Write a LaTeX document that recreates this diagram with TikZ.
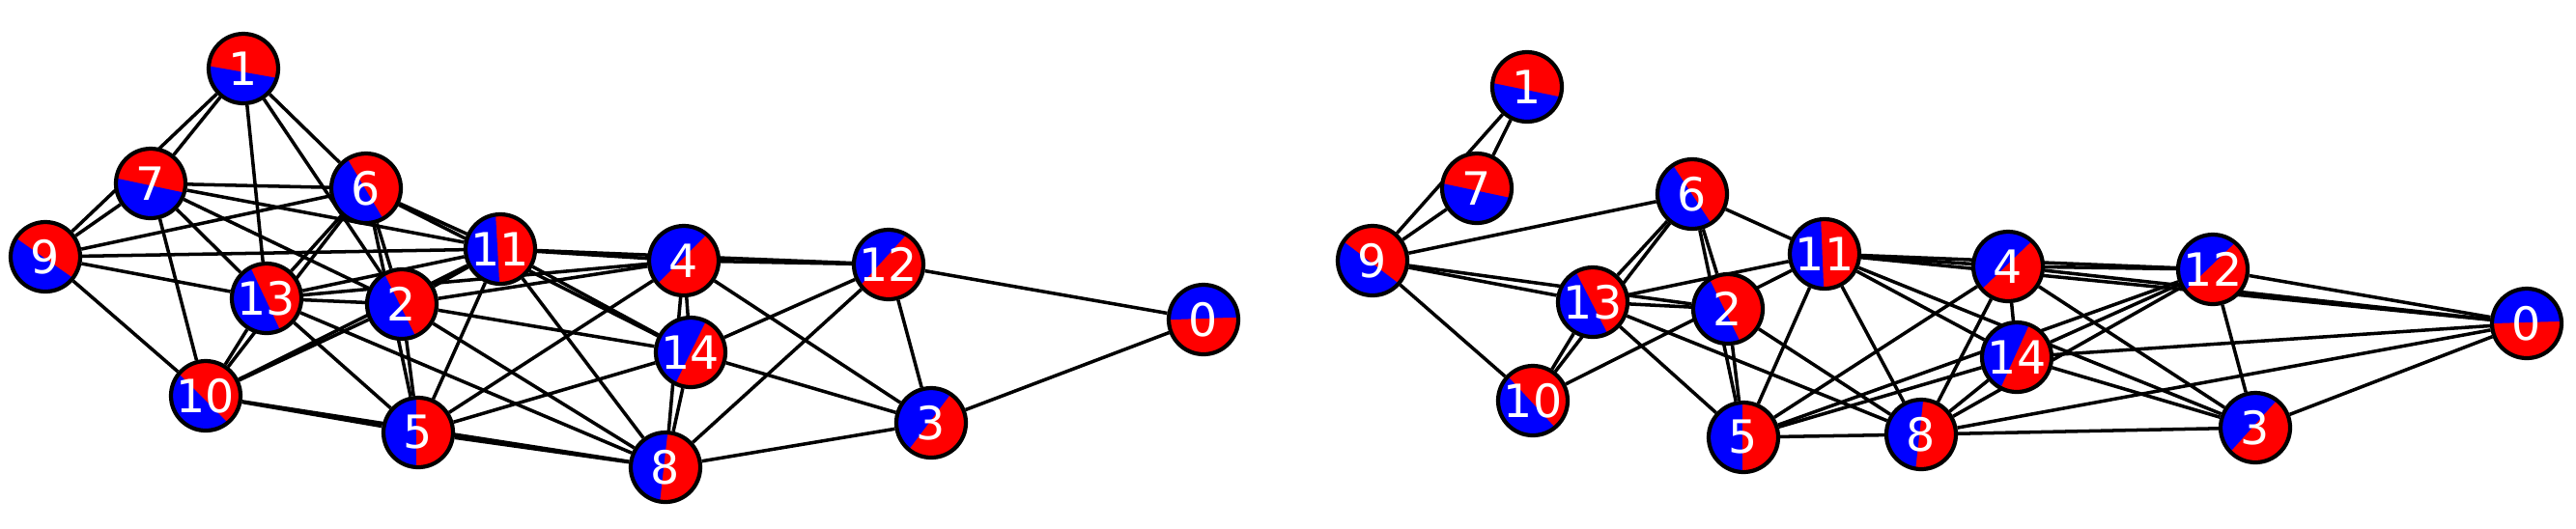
\documentclass[tikz,border=0pt]{standalone}
\usepackage{fontspec}
\setmainfont{DejaVu Sans}
\pgfdeclarelayer{bg}
\pgfdeclarelayer{mid}
\pgfsetlayers{bg,mid,main}
\tikzset{
  pn/.style={circle, draw=black, line width=1.2pt, minimum size=0.72cm,
    inner sep=0pt, text=white, font=\fontsize{13.5}{14}\selectfont},
  edge/.style={draw=black, line width=1pt}
}
\newcommand\piefill[3]{%
  \begin{scope}[shift={(#1.center)}, rotate=#2]
    \clip (0,0) circle (0.36);
    \fill[red] (-0.4,-0.4) rectangle (0.4,0.4);
    \fill[blue] ({#3*0.36},-0.4) rectangle (0.4,0.4);
  \end{scope}}
\begin{document}
\begin{tikzpicture}
\useasboundingbox (0,0) rectangle (26.67,-5.47);
% ---------- left graph ----------
\node[pn] (L0)  at (12.46,-3.31) {0};
\node[pn] (L1)  at (2.52,-0.71) {1};
\node[pn] (L2)  at (4.16,-3.15) {2};
\node[pn] (L3)  at (9.64,-4.38) {3};
\node[pn] (L4)  at (7.08,-2.70) {4};
\node[pn] (L5)  at (4.33,-4.48) {5};
\node[pn] (L6)  at (3.79,-1.95) {6};
\node[pn] (L7)  at (1.56,-1.90) {7};
\node[pn] (L8)  at (6.89,-4.84) {8};
\node[pn] (L9)  at (0.47,-2.66) {9};
\node[pn] (L10) at (2.13,-4.10) {10};
\node[pn] (L11) at (5.18,-2.58) {11};
\node[pn] (L12) at (9.20,-2.74) {12};
\node[pn] (L13) at (2.76,-3.09) {13};
\node[pn] (L14) at (7.15,-3.65) {14};
% ---------- right graph ----------
\node[pn] (R0)  at (26.16,-3.35) {0};
\node[pn] (R1)  at (15.81,-0.90) {1};
\node[pn] (R2)  at (17.89,-3.20) {2};
\node[pn] (R3)  at (23.35,-4.43) {3};
\node[pn] (R4)  at (20.79,-2.76) {4};
\node[pn] (R5)  at (18.05,-4.53) {5};
\node[pn] (R6)  at (17.52,-2.01) {6};
\node[pn] (R7)  at (15.29,-1.95) {7};
\node[pn] (R8)  at (19.89,-4.50) {8};
\node[pn] (R9)  at (14.21,-2.70) {9};
\node[pn] (R10) at (15.87,-4.15) {10};
\node[pn] (R11) at (18.89,-2.63) {11};
\node[pn] (R12) at (22.91,-2.79) {12};
\node[pn] (R13) at (16.49,-3.13) {13};
\node[pn] (R14) at (20.88,-3.70) {14};
\begin{pgfonlayer}{mid}
\foreach \n/\a/\d in {L0/92/0.03, L1/-100/0.1, L2/206.6/0.06, L3/143/0.05,
  L4/135/0.065, L5/180/0.05, L6/210.7/0.03, L7/-102/0.06, L8/173.6/0.05,
  L9/-125/0.045, L10/225/0.1, L11/183.2/0.08, L12/137.8/0.2, L13/205.3/0.04,
  L14/154/0,
  R0/91.8/0.03, R1/-101.6/0.09, R2/206/0.1, R3/138/0.07, R4/134/0.055,
  R5/180/0.03, R6/213.3/0.01, R7/-102/0.07, R8/173.7/0.05, R9/-127.3/0.067,
  R10/222.7/0.055, R11/182.4/0.065, R12/133.9/0.11, R13/207.1/0.035,
  R14/155.7/0.06}
  {\piefill{\n}{\a}{\d}}
\end{pgfonlayer}
\begin{pgfonlayer}{bg}
\foreach \a/\b in {1/7,1/9,7/9,1/13,1/6,1/2,
  7/6,7/11,7/2,7/13,7/10,
  9/6,9/11,9/13,9/10,
  6/11,6/14,6/13,6/10,6/2,6/5,
  11/13,11/2,10/11,10/2,11/4,11/12,11/14,11/8,11/5,
  13/2,13/4,13/5,13/8,13/10,
  2/4,2/14,2/5,2/8,
  10/5,10/8,5/8,5/4,5/14,
  4/14,4/8,14/8,4/12,4/3,14/12,14/3,12/8,12/3,12/0,3/0,8/3}
  {\draw[edge] (L\a) -- (L\b);}
\foreach \a/\b in {1/7,1/9,7/9,9/6,9/13,9/2,9/10,
  6/13,6/10,13/10,6/2,6/5,2/5,6/11,
  13/11,10/11,13/2,13/5,13/8,2/8,
  11/5,11/8,11/4,11/12,11/0,11/14,11/3,
  4/12,4/0,4/5,4/8,4/14,4/3,
  12/0,12/3,14/12,5/12,8/12,
  14/0,14/3,8/0,3/0,5/8,8/3,5/14,8/14}
  {\draw[edge] (R\a) -- (R\b);}
\end{pgfonlayer}
\end{tikzpicture}
\end{document}
